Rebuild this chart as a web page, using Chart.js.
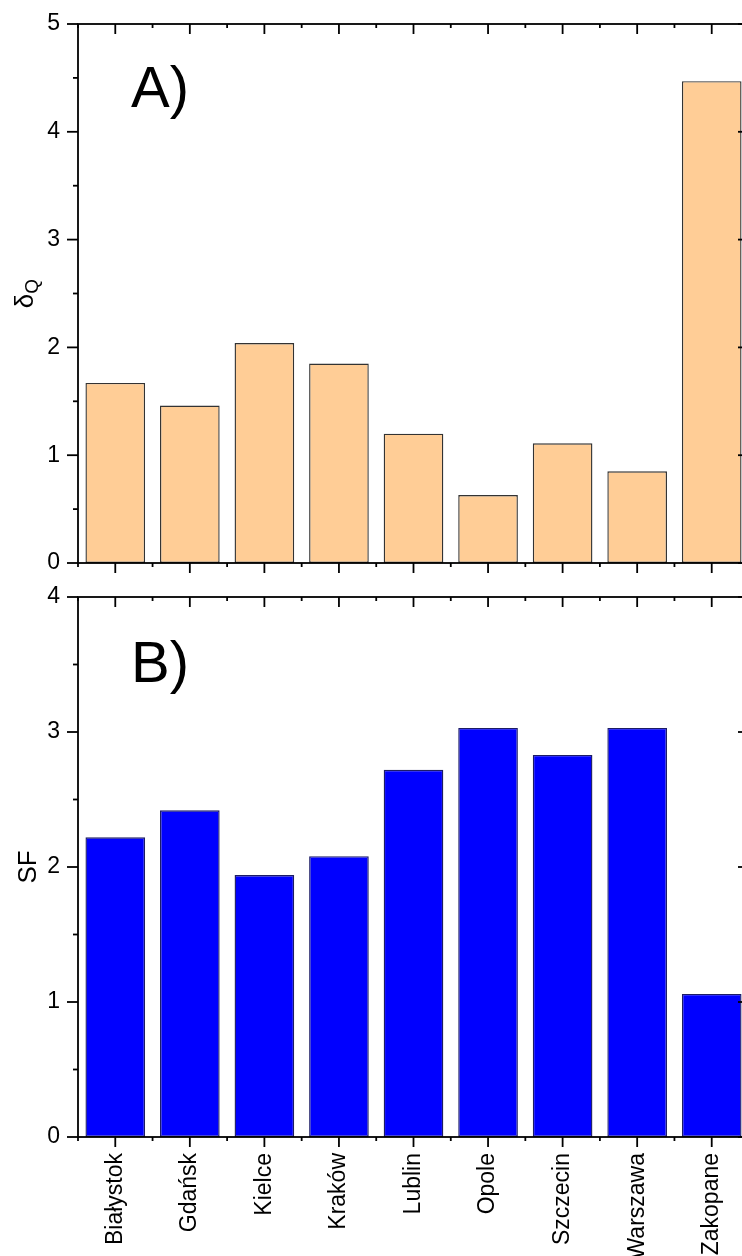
<!DOCTYPE html>
<html lang="en">
<head>
    <meta charset="UTF-8">
    <title>δQ and SF by city</title>
    <script src="https://cdn.jsdelivr.net/npm/chart.js"></script>
    <style>
        html, body {
            margin: 0;
            padding: 0;
            overflow: hidden;
            background: #fff;
        }
        canvas {
            position: absolute;
            left: 0;
        }
        #panelA { top: 0; }
        #panelB { top: 580px; }
    </style>
</head>
<body>
    <canvas id="panelA" width="770" height="580"></canvas>
    <canvas id="panelB" width="770" height="676"></canvas>

    <script>
        const cities = ['Białystok', 'Gdańsk', 'Kielce', 'Kraków', 'Lublin', 'Opole', 'Szczecin', 'Warszawa', 'Zakopane'];
        const deltaQ = [1.67, 1.46, 2.04, 1.85, 1.20, 0.63, 1.11, 0.85, 4.47];
        const sf = [2.22, 2.42, 1.94, 2.08, 2.72, 3.03, 2.83, 3.03, 1.06];
        const yMaxA = 5;
        const yMaxB = 4;

        Chart.defaults.font.family = '"Liberation Sans", Arial, sans-serif';
        Chart.defaults.color = '#000';

        function line(ctx, x1, y1, x2, y2) {
            ctx.beginPath();
            ctx.moveTo(x1, y1);
            ctx.lineTo(x2, y2);
            ctx.stroke();
        }

        // Origin-style box: outward ticks left/bottom, inward ticks top/right, minor ticks
        const originFrame = {
            id: 'originFrame',
            afterDraw(chart, args, opts) {
                const { ctx, chartArea: a, scales: { x, y } } = chart;
                ctx.save();
                ctx.strokeStyle = '#000';
                ctx.lineWidth = 1.8;
                ctx.strokeRect(a.left, a.top, a.right - a.left, a.bottom - a.top);

                for (let v = y.min; v <= y.max + 0.001; v += 0.5) {
                    const py = y.getPixelForValue(v);
                    const len = Number.isInteger(v) ? 11 : 5;
                    line(ctx, a.left - len, py, a.left, py);
                    line(ctx, a.right, py, a.right - len, py);
                }
                const n = chart.data.labels.length;
                for (let i = 0; i < n; i++) {
                    const px = x.getPixelForValue(i);
                    line(ctx, px, a.bottom, px, a.bottom + 10);
                    line(ctx, px, a.top, px, a.top + 10);
                }
                for (let i = 0; i <= n; i++) {
                    const px = x.getPixelForValue(i - 0.5);
                    line(ctx, px, a.bottom, px, a.bottom + 4);
                    line(ctx, px, a.top, px, a.top + 4);
                }

                // panel tag
                ctx.fillStyle = '#000';
                ctx.textAlign = 'left';
                ctx.textBaseline = 'alphabetic';
                ctx.font = '58px "Liberation Sans", Arial, sans-serif';
                ctx.fillText(opts.tag, 131, a.top + opts.tagOffset);

                // rotated axis title with optional subscript
                const mainFont = '26px "Liberation Sans", Arial, sans-serif';
                const subFont = '19px "Liberation Sans", Arial, sans-serif';
                ctx.font = mainFont;
                const w1 = ctx.measureText(opts.title).width;
                ctx.font = subFont;
                const w2 = opts.sub ? ctx.measureText(opts.sub).width : 0;
                ctx.translate(opts.titleX, (a.top + a.bottom) / 2);
                ctx.rotate(-Math.PI / 2);
                const start = -(w1 + w2) / 2;
                ctx.font = mainFont;
                ctx.fillText(opts.title, start, 0);
                if (opts.sub) {
                    ctx.font = subFont;
                    ctx.fillText(opts.sub, start + w1, 5);
                }
                ctx.restore();
            }
        };

        function makePanel(id, values, yMax, fill, edge, showLabels, xHeight, padTop, frame) {
            return new Chart(document.getElementById(id), {
                type: 'bar',
                data: {
                    labels: cities,
                    datasets: [{
                        data: values,
                        backgroundColor: fill,
                        borderColor: edge,
                        borderWidth: 1.4,
                        borderSkipped: false,
                        categoryPercentage: 1,
                        barPercentage: 0.8
                    }]
                },
                options: {
                    responsive: false,
                    animation: false,
                    layout: { padding: { top: padTop, right: 21, left: 0, bottom: 0 } },
                    plugins: {
                        legend: { display: false },
                        tooltip: { enabled: false },
                        originFrame: frame
                    },
                    scales: {
                        x: {
                            grid: { display: false, drawTicks: true, tickLength: 14 },
                            border: { display: false },
                            ticks: {
                                display: showLabels,
                                autoSkip: false,
                                maxRotation: 90,
                                minRotation: 90,
                                padding: 2,
                                font: { size: 23 }
                            },
                            afterFit: s => { s.height = xHeight; }
                        },
                        y: {
                            min: 0,
                            max: yMax,
                            grid: { display: false, drawTicks: true, tickLength: 15 },
                            border: { display: false },
                            ticks: { stepSize: 1, padding: 3, font: { size: 23 } },
                            afterFit: s => { s.width = 78; }
                        }
                    }
                },
                plugins: [originFrame]
            });
        }

        makePanel('panelA', deltaQ, yMaxA, '#FFCD96', '#333333', false, 17, 24,
            { tag: 'A)', tagOffset: 83, title: 'δ', sub: 'Q', titleX: 33 });
        makePanel('panelB', sf, yMaxB, '#0000FF', '#1c1c66', true, 119, 17,
            { tag: 'B)', tagOffset: 85, title: 'SF', titleX: 36 });
    </script>
</body>
</html>
